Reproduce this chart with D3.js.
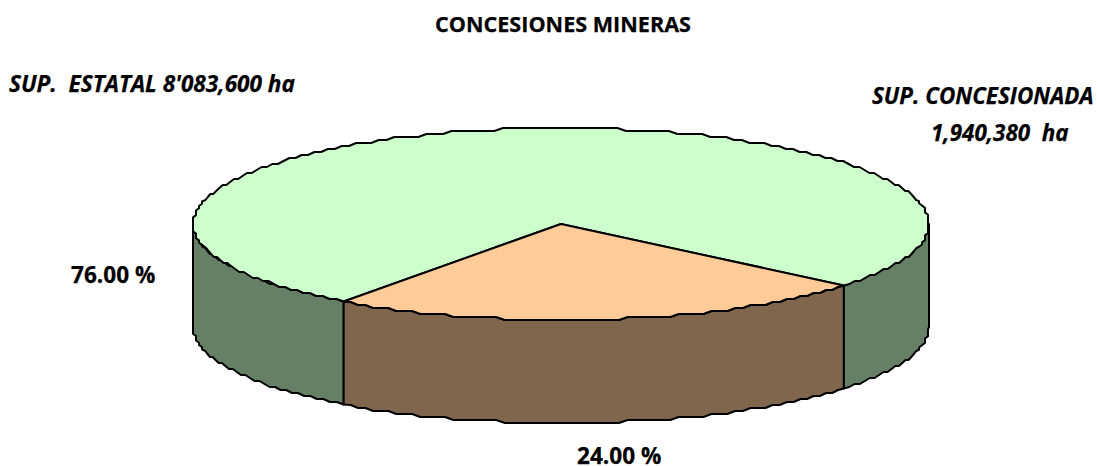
<!DOCTYPE html>
<html>
<head>
<meta charset="utf-8">
<script src="https://cdn.jsdelivr.net/npm/d3@7.9.0/dist/d3.min.js"></script>
<style>
  html, body { margin: 0; background: #fff; overflow: hidden; }
  text { font-family: "Open Sans", "Noto Sans", sans-serif; font-weight: 700; fill: #000; stroke: #000; stroke-width: 0.25; }
  .note { font-style: italic; }
</style>
</head>
<body>
<svg width="1097" height="466" style="display:block"></svg>
<script>
const categories = ['SUP. CONCESIONADA', 'SUP. ESTATAL'];
const shares = [24, 76];
const percentLabels = ['24.00 %', '76.00 %'];
const topColors = ['#ffcc99', '#ccffcc'];
const wallColors = ['#7f664c', '#668066'];

const svg = d3.select('svg');

// ellipse of the tilted pie, mapped from the unit circle
const x = d3.scaleLinear().domain([-1, 1]).range([193, 929]);
const y = d3.scaleLinear().domain([-1, 1]).range([128, 320]);
const depth = 103;
const startDeg = 129.8;

const slices = d3.pie().value((d) => d).sort(null)
  .startAngle(startDeg * Math.PI / 180)
  .endAngle((startDeg + 360) * Math.PI / 180)(shares);

// the original outline is stepped: snap along whichever axis the rim crosses slowly
const grid = 3;
const snap = (v, origin) => origin + Math.round((v - origin) / grid) * grid;
const rimExact = (a) => [x(Math.sin(a)), y(-Math.cos(a))];
function rim(a) {
  const [px, py] = rimExact(a);
  const shallow = 368 * Math.abs(Math.cos(a)) > 96 * Math.abs(Math.sin(a));
  return shallow ? [px, snap(py, 128)] : [snap(px, 193), py];
}

function rimPoints(a0, a1) {
  const n = Math.max(2, Math.ceil(Math.abs(a1 - a0) / 0.024));
  return d3.range(n + 1).map((i) => {
    const a = a0 + (a1 - a0) * i / n;
    return i === 0 || i === n ? rimExact(a) : rim(a);
  });
}

const line = d3.line().curve(d3.curveLinear);
const center = [x(0), y(0)];

function drawWall(a0, a1, color) {
  const front = rimPoints(a0, a1);
  const bottom = front.slice().reverse().map((p) => [p[0], p[1] + depth]);
  svg.append('path')
    .attr('d', line(front.concat(bottom)) + 'Z')
    .attr('fill', color)
    .attr('stroke', '#000')
    .attr('stroke-width', 2)
    .attr('stroke-linejoin', 'round');
}

// only the front half of the rim shows a wall
const halfRight = Math.PI / 2;
const halfLeft = Math.PI * 1.5;
drawWall(halfRight, slices[0].startAngle, wallColors[1]);
drawWall(slices[0].endAngle, halfLeft, wallColors[1]);
drawWall(slices[0].startAngle, slices[0].endAngle, wallColors[0]);

// green top first, orange over it
[1, 0].forEach((i) => {
  const s = slices[i];
  svg.append('path')
    .attr('d', line([center].concat(rimPoints(s.startAngle, s.endAngle))) + 'Z')
    .attr('fill', topColors[i])
    .attr('stroke', '#000')
    .attr('stroke-width', 2)
    .attr('stroke-linejoin', 'round');
});

function label(txt, px, py, size, cls) {
  svg.append('text')
    .attr('x', px)
    .attr('y', py)
    .attr('font-size', size)
    .attr('class', cls || null)
    .attr('xml:space', 'preserve')
    .text(txt);
}

label('CONCESIONES MINERAS', 435, 32, 21.6);
label("SUP.  ESTATAL 8'083,600 ha", 9, 92, 22.6, 'note');
label('SUP. CONCESIONADA', 872, 104, 22.4, 'note');
label('1,940,380  ha', 931, 141, 22.4, 'note');
label(percentLabels[1], 71, 283, 22.6);
label(percentLabels[0], 577, 464, 22.6);
</script>
</body>
</html>
